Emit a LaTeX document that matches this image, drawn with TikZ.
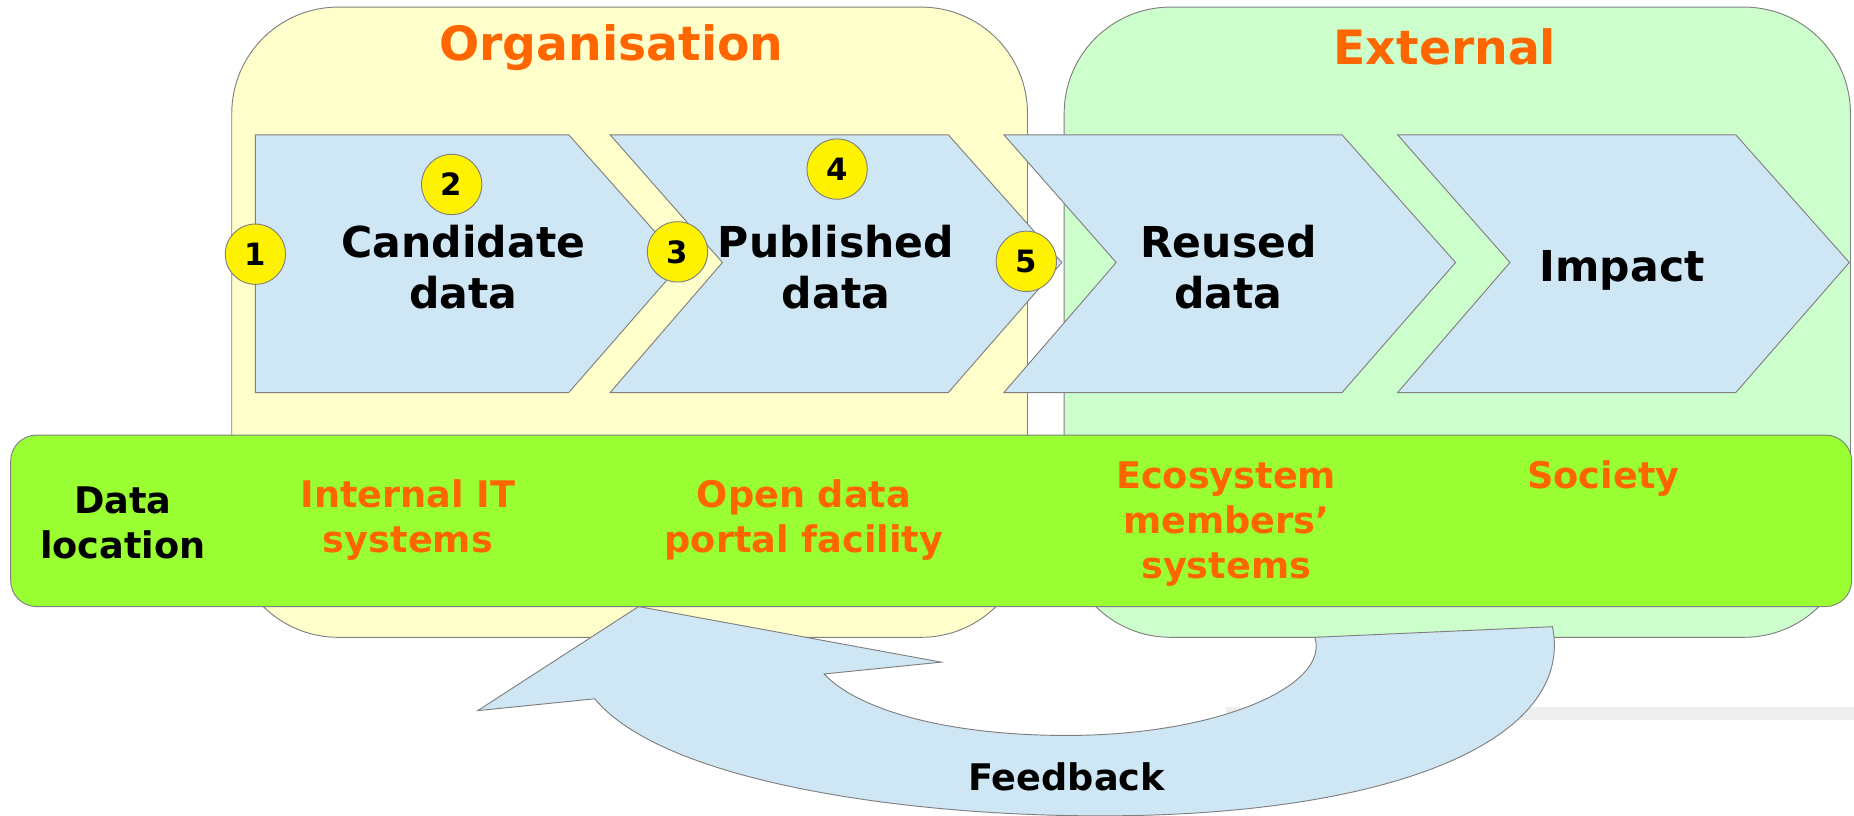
\documentclass[tikz,border=0pt]{standalone}
\usepackage{fontspec}
\setmainfont{DejaVu Sans}
\usetikzlibrary{positioning}
\definecolor{orgfill}{HTML}{FFFFCC}
\definecolor{extfill}{HTML}{CCFFCC}
\definecolor{stagefill}{HTML}{CFE7F5}
\definecolor{bandfill}{HTML}{99FF33}
\definecolor{linegray}{HTML}{808080}
\definecolor{barfill}{HTML}{EEEEEE}
\definecolor{titleorange}{HTML}{FF6600}
\tikzset{
  area/.style={draw=linegray, line width=0.8pt, rounded corners=90pt},
  stage/.style={draw=linegray, fill=stagefill, line width=0.8pt},
  stagetext/.style={align=center, font=\fontsize{36}{43}\selectfont\bfseries},
  title/.style={text=titleorange, font=\fontsize{40}{48}\selectfont\bfseries},
  placetext/.style={align=center, text=titleorange, font=\fontsize{31}{38}\selectfont\bfseries},
  marker/.style={circle, draw=linegray, fill=yellow, line width=0.8pt, minimum size=51pt,
    inner sep=0pt, font=\fontsize{26}{26}\selectfont\bfseries}
}

\begin{document}
\begin{tikzpicture}[x=1pt, y=-1pt]
\useasboundingbox (0,0) rectangle (1568,690);

% Grey bar behind the feedback arrow
\fill[barfill] (1037,598) rectangle (1568,609);

% Organisation and External areas
\draw[area, fill=orgfill] (196,6) rectangle (869,539);
\draw[area, fill=extfill] (900,6) rectangle (1565,539);
\node[title] (org) at (517,40) {Organisation};
\node[title] (ext) at (1222,40) {External};

% Stages
\draw[stage] (216,114) -- (481,114) -- (577,222) -- (481,332) -- (216,332) -- cycle;
\foreach \x in {516,849,1182}
  \draw[stage] (\x,114) -- ++(286,0) -- ++(96,108) -- ++(-96,110) -- ++(-286,0)
    -- ++(95,-110) -- cycle;

\node[stagetext] (cand) at (392,226) {Candidate\\data};
\node[stagetext] (pub) at (707,226) {Published\\data};
\node[stagetext] (reuse) at (1039,226) {Reused\\data};
\node[stagetext] (impact) at (1372,229) {Impact};

% Feedback arrow
\draw[stage] (1112,539) .. controls (1125,580) and (1030,622) .. (902,622)
  .. controls (800,622) and (725,600) .. (697,570) -- (796,560) -- (540,513)
  -- (404,601) -- (503,591) .. controls (560,660) and (760,690) .. (931,690)
  .. controls (1180,690) and (1332,625) .. (1313,530) -- cycle;
\node[font=\fontsize{31}{38}\selectfont\bfseries] (feedback) at (902,657) {Feedback};

% Data location band
\draw[draw=linegray, fill=bandfill, line width=0.8pt, rounded corners=22pt]
  (9,368) rectangle (1566,513);
\node[align=center, font=\fontsize{31}{38}\selectfont\bfseries] (loc) at (104,442) {Data\\location};
\node[placetext] (internal) at (345,440) {Internal IT\\systems};
\node[placetext] (portal) at (680,440) {Open data\\portal facility};
\node[placetext] (eco) at (1037,443) {Ecosystem\\members’\\systems};
\node[placetext] (society) at (1356,405) {Society};

% Numbered markers
\foreach \n/\x/\y in {1/216/215, 2/382/156, 3/573/213, 4/708/143, 5/868/221}
  \node[marker] (m\n) at (\x,\y) {\n};

\end{tikzpicture}
\end{document}
